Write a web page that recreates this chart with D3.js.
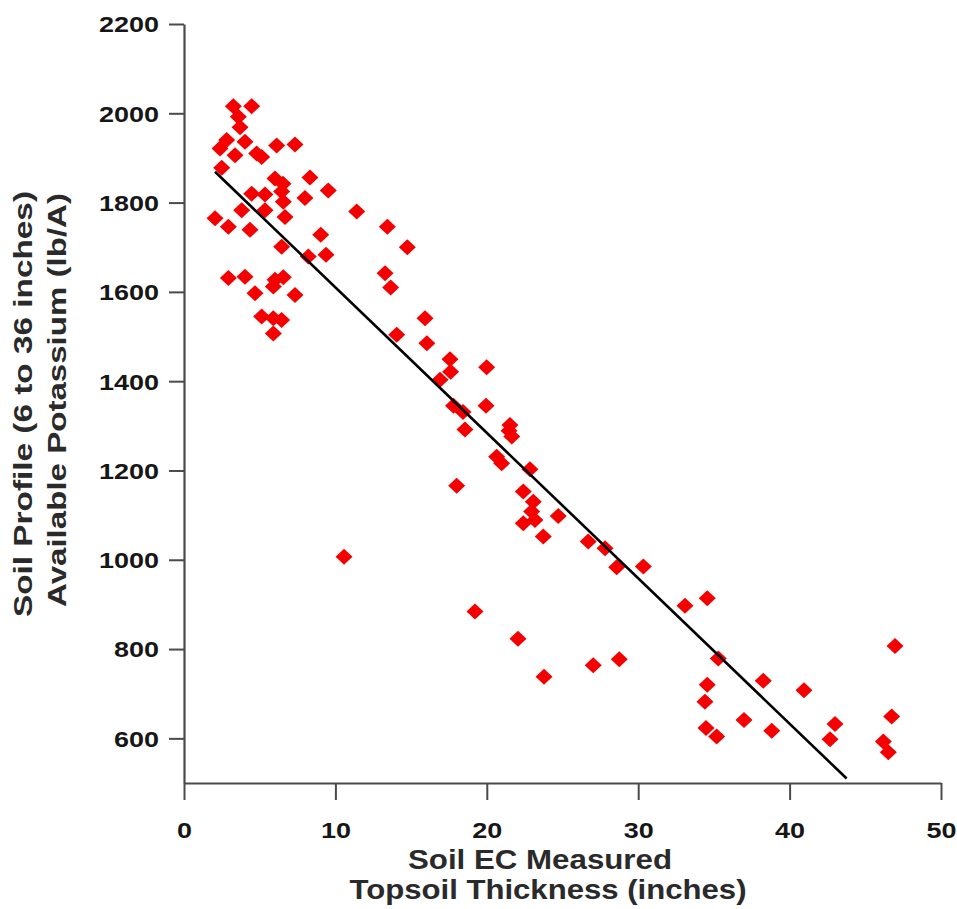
<!DOCTYPE html>
<html>
<head>
<meta charset="utf-8">
<script src="https://cdn.jsdelivr.net/npm/d3@7/dist/d3.min.js"></script>
<style>
  html, body { margin: 0; padding: 0; background: #fff; }
  svg { display: block; }
  text { font-family: "Liberation Sans", Arial, Helvetica, sans-serif; }
</style>
</head>
<body>
<svg id="chart" width="957" height="909"></svg>
<script>
// ---- data ----
const thickness = [
  3.26, 4.47, 3.59, 3.70, 2.82, 2.38, 4.03, 3.37, 4.80, 5.13,
  6.12, 7.33, 2.49, 6.01, 6.54, 4.47, 5.35, 8.32, 7.99, 9.53,
  6.45, 6.56, 3.81, 5.35, 6.67, 2.05, 2.93, 4.36, 11.41, 13.43,
  9.03, 14.75, 6.45, 8.21, 9.38, 2.93, 4.03, 6.01, 6.56, 5.90,
  4.69, 7.33, 13.28, 13.65, 5.13, 5.90, 6.45, 5.90, 15.92, 14.05,
  16.04, 17.57, 17.61, 16.91, 19.99, 17.80, 18.43, 19.95, 18.56, 21.53,
  21.65, 21.47, 20.65, 20.98, 22.85, 18.01, 22.41, 23.07, 22.96, 22.41,
  23.18, 24.72, 23.73, 26.70, 27.81, 28.58, 30.34, 10.57, 19.22, 22.06,
  23.78, 27.03, 28.75, 33.09, 34.56, 35.29, 34.56, 34.41, 34.48, 35.18,
  36.99, 38.26, 38.82, 40.95, 43.00, 42.67, 46.96, 46.74, 46.19, 46.52
];
const potassium = [
  2016, 2016, 1992, 1969, 1940, 1921, 1936, 1906, 1910, 1902,
  1928, 1930, 1878, 1854, 1842, 1820, 1818, 1856, 1810, 1827,
  1825, 1802, 1783, 1783, 1768, 1765, 1746, 1739, 1780, 1746,
  1728, 1700, 1701, 1679, 1683, 1631, 1634, 1627, 1633, 1612,
  1597, 1593, 1642, 1610, 1545, 1541, 1537, 1507, 1541, 1504,
  1485, 1449, 1421, 1403, 1431, 1345, 1331, 1345, 1292, 1302,
  1276, 1289, 1231, 1216, 1203, 1166, 1153, 1130, 1108, 1082,
  1089, 1098, 1052, 1041, 1026, 983, 985, 1007, 884, 823,
  738, 764, 777, 897, 914, 779, 720, 682, 623, 604,
  641, 729, 617, 708, 632, 598, 807, 649, 593, 569
];
const fitX = [2.05, 43.77];
const fitY = [1869, 510];
const xTicks = [0, 10, 20, 30, 40, 50];
const yTicks = [600, 800, 1000, 1200, 1400, 1600, 1800, 2000, 2200];
const xTitle = ["Soil EC Measured", "Topsoil Thickness (inches)"];
const yTitle = ["Soil Profile (6 to 36 inches)", "Available Potassium (lb/A)"];

// ---- drawing ----
const svg = d3.select("#chart");
const x = d3.scaleLinear().domain([0, 50]).range([184, 941]);
const y = d3.scaleLinear().domain([500, 2200]).range([783, 24]);

const axisColor = "#4a4a4a";
const digitW = 15;
const fmt = d3.format("d");

// y axis
const gy = svg.append("g").attr("transform", `translate(${x(0)},0)`)
  .call(d3.axisLeft(y).tickValues(yTicks).tickFormat(fmt).tickSize(15).tickSizeOuter(0).tickPadding(10));
gy.select(".domain").attr("stroke", axisColor).attr("stroke-width", 2.2);
gy.selectAll(".tick line").attr("stroke", axisColor).attr("stroke-width", 2);
gy.selectAll(".tick text")
  .attr("fill", "#161616").attr("font-size", 22).attr("font-weight", "bold")
  .attr("font-family", "'Liberation Sans', Arial, sans-serif")
  .attr("dy", "0.36em")
  .attr("textLength", d => fmt(d).length * digitW)
  .attr("lengthAdjust", "spacingAndGlyphs");

// x axis
const gx = svg.append("g").attr("transform", `translate(0,${y(500)})`)
  .call(d3.axisBottom(x).tickValues(xTicks).tickFormat(fmt).tickSize(17).tickSizeOuter(0).tickPadding(0));
gx.select(".domain").attr("stroke", axisColor).attr("stroke-width", 2.2);
gx.selectAll(".tick line").attr("stroke", axisColor).attr("stroke-width", 2);
gx.selectAll(".tick text")
  .attr("fill", "#161616").attr("font-size", 22).attr("font-weight", "bold")
  .attr("font-family", "'Liberation Sans', Arial, sans-serif")
  .attr("y", 55).attr("dy", 0)
  .attr("textLength", d => fmt(d).length * digitW)
  .attr("lengthAdjust", "spacingAndGlyphs");

// points (diamonds)
const hw = 8.5, hh = 8;
const pts = thickness.map((t, i) => [t, potassium[i]]);
svg.append("g").selectAll("path").data(pts).join("path")
  .attr("transform", d => `translate(${x(d[0])},${y(d[1])})`)
  .attr("d", `M0,${-hh}L${hw},0L0,${hh}L${-hw},0Z`)
  .attr("fill", "#f40000");

// regression line
svg.append("line")
  .attr("x1", x(fitX[0])).attr("y1", y(fitY[0]))
  .attr("x2", x(fitX[1])).attr("y2", y(fitY[1]))
  .attr("stroke", "#000").attr("stroke-width", 2.6);

// x title
const xt = svg.append("g").attr("font-size", 27).attr("font-weight", "bold").attr("fill", "#2a2a2a");
xt.append("text").attr("x", 540).attr("y", 869).attr("text-anchor", "middle")
  .attr("textLength", 264).attr("lengthAdjust", "spacingAndGlyphs").text(xTitle[0]);
xt.append("text").attr("x", 548).attr("y", 899).attr("text-anchor", "middle")
  .attr("textLength", 397).attr("lengthAdjust", "spacingAndGlyphs").text(xTitle[1]);

// y title
const yt = svg.append("g").attr("font-size", 26).attr("font-weight", "bold").attr("fill", "#2a2a2a");
yt.append("text").attr("transform", "translate(32,404) rotate(-90)").attr("text-anchor", "middle")
  .attr("textLength", 426).attr("lengthAdjust", "spacingAndGlyphs").text(yTitle[0]);
yt.append("text").attr("transform", "translate(66,400) rotate(-90)").attr("text-anchor", "middle")
  .attr("textLength", 414).attr("lengthAdjust", "spacingAndGlyphs").text(yTitle[1]);
</script>
</body>
</html>
